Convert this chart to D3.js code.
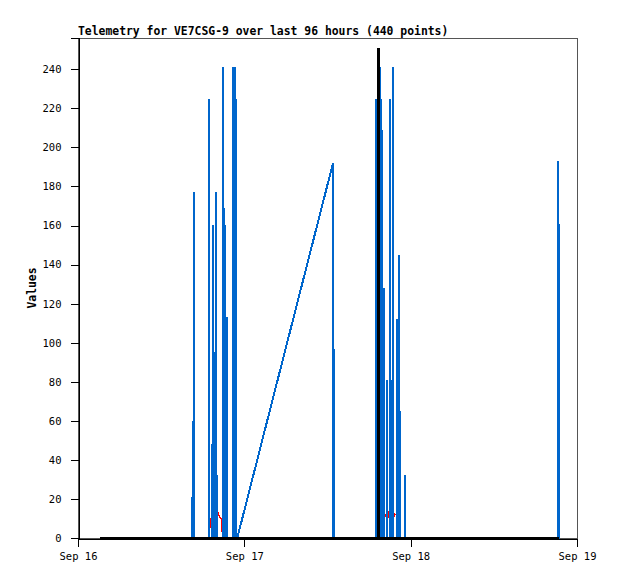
<!DOCTYPE html>
<html>
<head>
<meta charset="utf-8">
<script src="https://cdn.jsdelivr.net/npm/d3@7"></script>
<style>
  html, body { margin: 0; padding: 0; background: #fff; }
  svg { display: block; }
  text { font-family: "DejaVu Sans Mono", "Liberation Mono", monospace; }
</style>
</head>
<body>
<svg id="chart" width="618" height="579"></svg>
<script>
// ---------------- DATA ----------------
const titleText = "Telemetry for VE7CSG-9 over last 96 hours (440 points)";
const yLabel = "Values";
const xDomain = ["2023-09-16 00:00", "2023-09-19 00:00"];
const yDomain = [0, 256];
const yTicks = [0, 20, 40, 60, 80, 100, 120, 140, 160, 180, 200, 220, 240];
const xTickDates = ["2023-09-16 00:00", "2023-09-17 00:00", "2023-09-18 00:00", "2023-09-19 00:00"];
const xTickLabels = ["Sep 16", "Sep 17", "Sep 18", "Sep 19"];

// Blue channel
const blueTimes = [
  "2023-09-16 03:10",
  "2023-09-16 16:23", "2023-09-16 16:24", "2023-09-16 16:25",
  "2023-09-16 16:33", "2023-09-16 16:34", "2023-09-16 16:35",
  "2023-09-16 16:43", "2023-09-16 16:44", "2023-09-16 16:45",
  "2023-09-16 18:53", "2023-09-16 18:54", "2023-09-16 18:55",
  "2023-09-16 19:18", "2023-09-16 19:19", "2023-09-16 19:20",
  "2023-09-16 19:28", "2023-09-16 19:29", "2023-09-16 19:30",
  "2023-09-16 19:39", "2023-09-16 19:40", "2023-09-16 19:41",
  "2023-09-16 19:54", "2023-09-16 19:55", "2023-09-16 19:56",
  "2023-09-16 20:02", "2023-09-16 20:03", "2023-09-16 20:04",
  "2023-09-16 20:54", "2023-09-16 20:55", "2023-09-16 20:56",
  "2023-09-16 21:06", "2023-09-16 21:07", "2023-09-16 21:08",
  "2023-09-16 21:12", "2023-09-16 21:13", "2023-09-16 21:14",
  "2023-09-16 21:27", "2023-09-16 21:28", "2023-09-16 21:29",
  "2023-09-16 22:21", "2023-09-16 22:22", "2023-09-16 22:23",
  "2023-09-16 22:38", "2023-09-16 22:39", "2023-09-16 22:40",
  "2023-09-16 22:49", "2023-09-16 22:50", "2023-09-16 22:51",
  "2023-09-16 22:59",
  "2023-09-17 12:48", "2023-09-17 12:49",
  "2023-09-17 12:55", "2023-09-17 12:56", "2023-09-17 12:57",
  "2023-09-17 18:59", "2023-09-17 19:00", "2023-09-17 19:01",
  "2023-09-17 19:35", "2023-09-17 19:36", "2023-09-17 19:37",
  "2023-09-17 19:42", "2023-09-17 19:43", "2023-09-17 19:44",
  "2023-09-17 19:53", "2023-09-17 19:54", "2023-09-17 19:55",
  "2023-09-17 20:04", "2023-09-17 20:05", "2023-09-17 20:06",
  "2023-09-17 20:31", "2023-09-17 20:32", "2023-09-17 20:33",
  "2023-09-17 21:00", "2023-09-17 21:01", "2023-09-17 21:02",
  "2023-09-17 21:15", "2023-09-17 21:16", "2023-09-17 21:17",
  "2023-09-17 21:24", "2023-09-17 21:25", "2023-09-17 21:26",
  "2023-09-17 22:03", "2023-09-17 22:04", "2023-09-17 22:05",
  "2023-09-17 22:15", "2023-09-17 22:16", "2023-09-17 22:17",
  "2023-09-17 22:27", "2023-09-17 22:28", "2023-09-17 22:29",
  "2023-09-17 23:07", "2023-09-17 23:08", "2023-09-17 23:09",
  "2023-09-18 21:15", "2023-09-18 21:16", "2023-09-18 21:17",
  "2023-09-18 21:26", "2023-09-18 21:27", "2023-09-18 21:28"
];
const blueValues = [
  0,
  0, 21, 0,
  0, 60, 0,
  0, 177, 0,
  0, 225, 0,
  0, 48, 0,
  0, 160, 0,
  0, 95, 0,
  0, 177, 0,
  0, 32, 0,
  0, 241, 0,
  0, 169, 0,
  0, 160, 0,
  0, 113, 0,
  0, 241, 0,
  0, 241, 0,
  0, 225, 0,
  0,
  192, 0,
  0, 97, 0,
  0, 225, 0,
  0, 241, 0,
  0, 225, 0,
  0, 209, 0,
  0, 128, 0,
  0, 81, 0,
  0, 225, 0,
  0, 81, 0,
  0, 241, 0,
  0, 112, 0,
  0, 145, 0,
  0, 65, 0,
  0, 32, 0,
  0, 193, 0,
  0, 161, 0
];

// Red channel
const redTimes = [
  "2023-09-16 03:10",
  "2023-09-16 19:01", "2023-09-16 19:03", "2023-09-16 19:37", "2023-09-16 20:09", "2023-09-16 20:18", "2023-09-16 20:29", "2023-09-16 20:40", "2023-09-16 20:51",
  "2023-09-17 19:58", "2023-09-17 20:17", "2023-09-17 20:32", "2023-09-17 20:44", "2023-09-17 20:52", "2023-09-17 21:10", "2023-09-17 21:36", "2023-09-17 21:43", "2023-09-17 21:57", "2023-09-17 22:06",
  "2023-09-18 21:28"
];
const redValues = [
  0,
  0, 9, 13, 13.5, 12, 10.5, 10, 0,
  0, 11, 13, 13.5, 10.6, 12, 11, 12.3, 12, 0,
  0
];

// Black channel
const blackTimes = ["2023-09-16 03:10", "2023-09-17 19:20", "2023-09-17 19:21", "2023-09-17 19:22", "2023-09-18 21:28"];
const blackValues = [0, 0, 251, 0, 0];

// ---------------- CHART ----------------
const parse = d3.timeParse("%Y-%m-%d %H:%M");
const margin = { left: 78, right: 41, top: 38, bottom: 41 };
const W = 618, H = 579;
const svg = d3.select("#chart");

const x = d3.scaleTime()
  .domain(xDomain.map(parse))
  .range([margin.left, W - margin.right]);
const y = d3.scaleLinear()
  .domain(yDomain)
  .range([H - margin.bottom, margin.top]);

// plot frame
svg.append("rect")
  .attr("x", margin.left + 0.5)
  .attr("y", margin.top + 0.5)
  .attr("width", W - margin.right - margin.left)
  .attr("height", H - margin.bottom - margin.top)
  .attr("fill", "none")
  .attr("stroke", "#555")
  .attr("stroke-width", 1)
  .attr("shape-rendering", "crispEdges");

// y axis
const yAxis = d3.axisLeft(y)
  .tickValues(yTicks)
  .tickSize(8)
  .tickPadding(9)
  .tickFormat(d3.format("d"));
const gy = svg.append("g")
  .attr("transform", `translate(${margin.left + 0.5},0)`)
  .call(yAxis);
gy.selectAll("path, line").attr("stroke", "#000").attr("shape-rendering", "crispEdges");
gy.selectAll("text").attr("font-size", "10.5px").attr("fill", "#000")
  .attr("font-family", "'DejaVu Sans Mono', monospace");

// x axis
const xAxis = d3.axisBottom(x)
  .tickValues(xTickDates.map(parse))
  .tickSize(8)
  .tickPadding(6)
  .tickFormat((d, i) => xTickLabels[i]);
const gx = svg.append("g")
  .attr("transform", `translate(0,${H - margin.bottom + 0.5})`)
  .call(xAxis);
gx.selectAll("path, line").attr("stroke", "#000").attr("shape-rendering", "crispEdges");
gx.selectAll("text").attr("font-size", "10.5px").attr("fill", "#000")
  .attr("font-family", "'DejaVu Sans Mono', monospace");

// series
function series(times, values) {
  return times.map((t, i) => ({ t: parse(t), v: values[i] }));
}
const line = d3.line().x(d => x(d.t)).y(d => y(d.v));

svg.append("path")
  .datum(series(redTimes, redValues))
  .attr("d", line)
  .attr("fill", "none")
  .attr("stroke", "#ff0000")
  .attr("stroke-width", 1.2)
  .attr("shape-rendering", "crispEdges");

svg.append("path")
  .datum(series(blueTimes, blueValues))
  .attr("d", line)
  .attr("fill", "none")
  .attr("stroke", "#0066cc")
  .attr("stroke-width", 2)
  .attr("stroke-linejoin", "bevel")
  .attr("shape-rendering", "crispEdges");

svg.append("path")
  .datum(series(blackTimes, blackValues))
  .attr("d", line)
  .attr("fill", "none")
  .attr("stroke", "#000")
  .attr("stroke-width", 3)
  .attr("stroke-linejoin", "bevel")
  .attr("shape-rendering", "crispEdges");

// title
svg.append("text")
  .attr("x", margin.left)
  .attr("y", 35)
  .attr("font-size", "11.4px")
  .attr("font-weight", "bold")
  .attr("fill", "#000")
  .text(titleText);

// y label
svg.append("text")
  .attr("transform", `translate(36,${(margin.top + H - margin.bottom) / 2}) rotate(-90)`)
  .attr("text-anchor", "middle")
  .attr("font-size", "11.4px")
  .attr("font-weight", "bold")
  .attr("fill", "#000")
  .text(yLabel);
</script>
</body>
</html>
